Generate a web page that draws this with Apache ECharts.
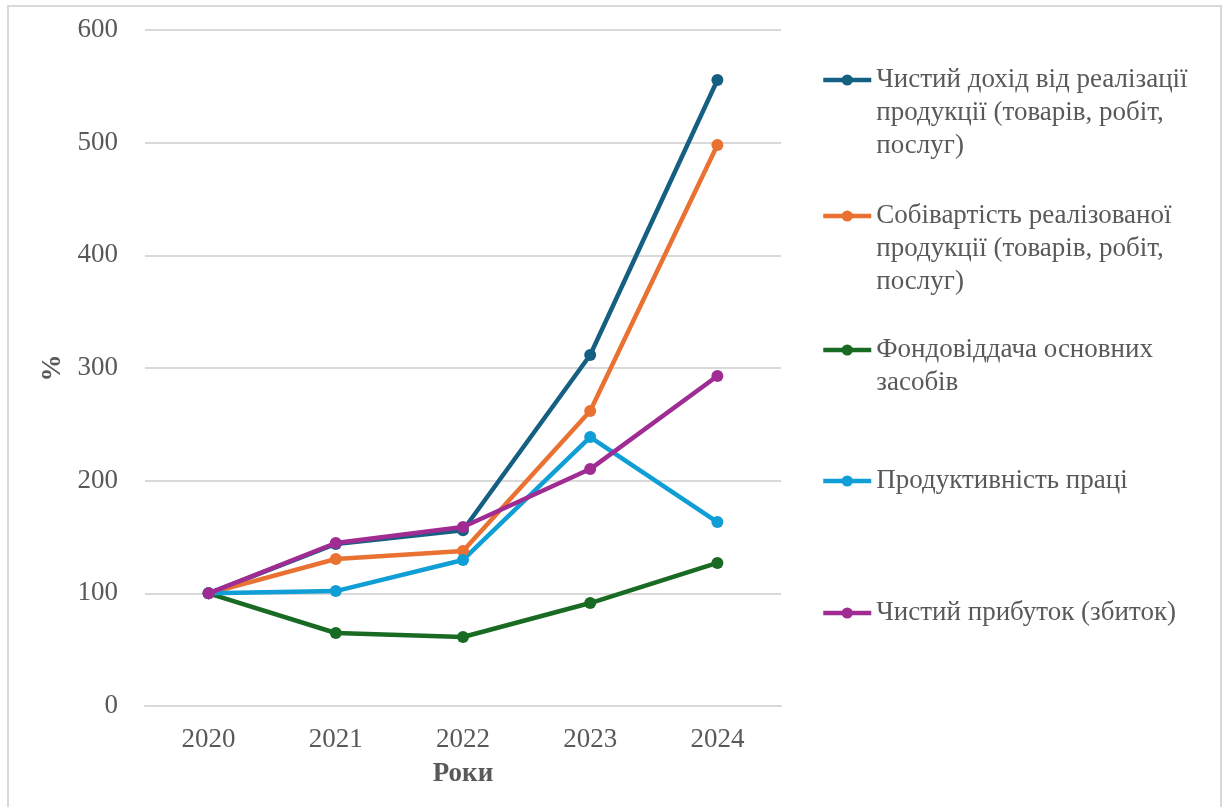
<!DOCTYPE html>
<html>
<head>
<meta charset="utf-8">
<script src="https://cdn.jsdelivr.net/npm/echarts@6/dist/echarts.min.js"></script>
<style>
html,body{margin:0;padding:0;background:#fff;}
#chart{width:1222px;height:807px;}
</style>
</head>
<body>
<div id="chart"></div>
<script>
const years = ['2020', '2021', '2022', '2023', '2024'];
const seriesNames = [
  'Чистий дохід від реалізації\nпродукції (товарів, робіт,\nпослуг)',
  'Собівартість реалізованої\nпродукції (товарів, робіт,\nпослуг)',
  'Фондовіддача основних\nзасобів',
  'Продуктивність праці',
  'Чистий прибуток (збиток)'
];
const netIncome = [100, 143.8, 156, 311.5, 555.6];
const costOfSales = [100, 130.5, 137.6, 261.8, 498];
const assetTurnover = [100, 64.8, 61.2, 91.4, 127];
const laborProductivity = [100, 102, 129.6, 238.7, 163.3];
const netProfit = [100, 144.7, 158.9, 210.3, 292.9];
const yTicks = [0, 100, 200, 300, 400, 500, 600];

const colors = ['#156082', '#e97132', '#196b24', '#0f9ed5', '#a02b93'];
const allData = [netIncome, costOfSales, assetTurnover, laborProductivity, netProfit];

const FONT = '"Liberation Serif", "Times New Roman", serif';
const FS = 27;
const LH = 33;
const legendCenters = [80, 216, 350, 481, 613];

const chart = echarts.init(document.getElementById('chart'), null, {renderer: 'canvas'});

const legends = seriesNames.map((name, i) => {
  const lines = name.split('\n').length;
  const total = 2 * lines - 1;
  return {
    data: [name],
    orient: 'vertical',
    left: 821,
    top: legendCenters[i] - total * LH / 2,
    padding: 0,
    itemWidth: 48,
    itemHeight: 14,
    itemGap: 0,
    selectedMode: false,
    lineStyle: {width: 4.5},
    formatter: n => '\n'.repeat(lines - 1) + n,
    textStyle: {
      fontFamily: FONT,
      fontSize: FS,
      color: '#595959',
      lineHeight: LH
    }
  };
});

const option = {
  backgroundColor: '#ffffff',
  animation: false,
  color: colors,
  graphic: [{
    type: 'rect',
    shape: {x: 8, y: 6, width: 1213, height: 810},
    style: {fill: 'none', stroke: '#d9d9d9', lineWidth: 2},
    silent: true,
    z: -1
  }],
  legend: legends,
  grid: {left: 145, right: 441, top: 30, bottom: 101, containLabel: false},
  xAxis: {
    type: 'category',
    data: years,
    boundaryGap: true,
    name: 'Роки',
    nameLocation: 'middle',
    nameGap: 55,
    nameTextStyle: {fontFamily: FONT, fontSize: FS, fontWeight: 'bold', color: '#595959'},
    axisLine: {show: true, lineStyle: {color: '#d9d9d9', width: 2}},
    axisTick: {show: false},
    axisLabel: {fontFamily: FONT, fontSize: FS, color: '#595959', margin: 20}
  },
  yAxis: {
    type: 'value',
    min: 0,
    max: 600,
    interval: 100,
    name: '%',
    nameLocation: 'middle',
    nameGap: 75,
    nameRotate: 90,
    nameTextStyle: {fontFamily: FONT, fontSize: FS, fontWeight: 'bold', color: '#595959'},
    axisLine: {show: false},
    axisTick: {show: false},
    splitLine: {show: true, lineStyle: {color: '#d9d9d9', width: 2}},
    axisLabel: {
      fontFamily: FONT, fontSize: FS, color: '#595959', margin: 27,
      formatter: v => yTicks.includes(v) ? String(v) : ''
    }
  },
  series: seriesNames.map((name, i) => ({
    name: name,
    type: 'line',
    data: allData[i],
    symbol: 'circle',
    symbolSize: 12,
    lineStyle: {width: 4.5, color: colors[i]},
    itemStyle: {color: colors[i]},
    z: 2 + (i === 4 ? 1 : 0)
  }))
};
chart.setOption(option);
</script>
</body>
</html>
